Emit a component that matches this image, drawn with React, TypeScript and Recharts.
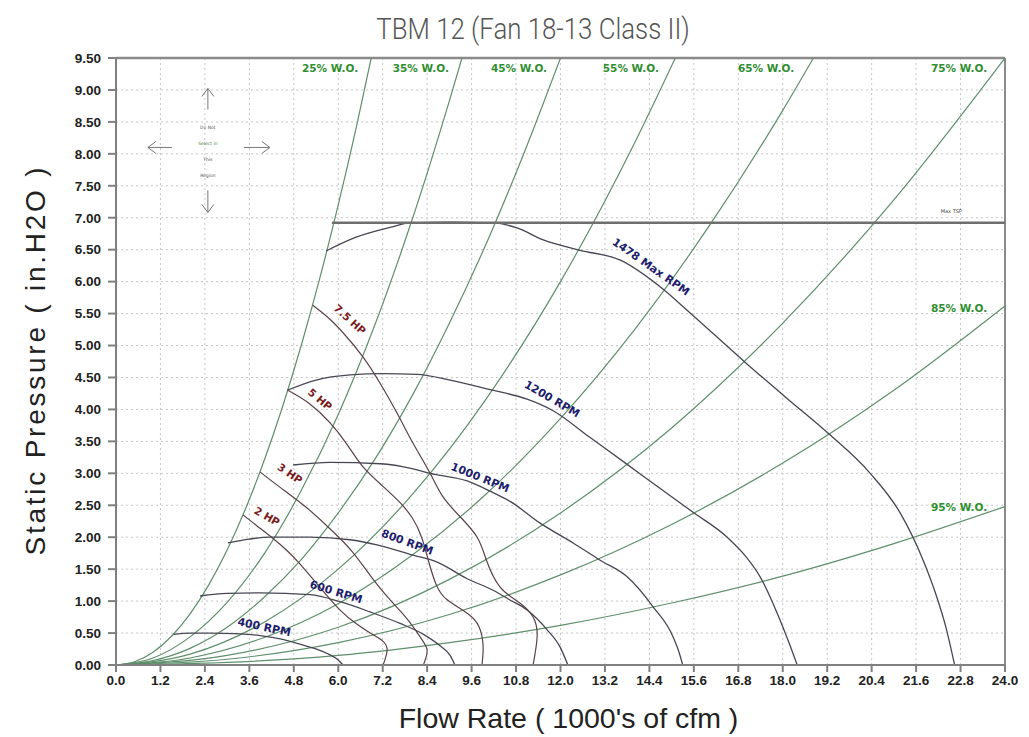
import {
    LineChart,
    Line,
    XAxis,
    YAxis,
    CartesianGrid,
    ReferenceDot,
    ReferenceLine
} from "recharts";

// axis ticks
const xTicks = [0, 1.2, 2.4, 3.6, 4.8, 6.0, 7.2, 8.4, 9.6, 10.8, 12.0, 13.2, 14.4, 15.6, 16.8, 18.0, 19.2, 20.4, 21.6, 22.8, 24.0];
const yTicks = [0, 0.5, 1, 1.5, 2, 2.5, 3, 3.5, 4, 4.5, 5, 5.5, 6, 6.5, 7, 7.5, 8, 8.5, 9, 9.5];

// system curves (% wide open), [flow, pressure]
const wo25 = [[0, 0], [0.5, 0.05], [1, 0.2], [1.5, 0.45], [2, 0.8], [2.5, 1.25], [3, 1.8], [3.5, 2.45], [4, 3.2], [4.5, 4.05], [5, 5.0], [5.5, 6.05], [6, 7.2], [6.5, 8.45], [6.89, 9.5]];
const wo35 = [[0, 0], [1, 0.11], [2, 0.44], [3, 0.98], [4, 1.74], [5, 2.73], [6, 3.92], [7, 5.34], [8, 6.98], [9, 8.83], [9.34, 9.5]];
const wo45 = [[0, 0], [1, 0.07], [2, 0.26], [3, 0.59], [4, 1.06], [5, 1.65], [6, 2.38], [7, 3.23], [8, 4.22], [9, 5.35], [10, 6.6], [11, 7.99], [12, 9.5]];
const wo55 = [[0, 0], [2, 0.17], [4, 0.67], [6, 1.5], [8, 2.67], [10, 4.17], [12, 6.0], [14, 8.17], [15.1, 9.5]];
const wo65 = [[0, 0], [2, 0.11], [4, 0.43], [6, 0.96], [8, 1.72], [10, 2.68], [12, 3.86], [14, 5.25], [16, 6.86], [18, 8.68], [18.83, 9.5]];
const wo75 = [[0, 0], [3, 0.15], [6, 0.59], [9, 1.34], [12, 2.38], [15, 3.71], [18, 5.35], [21, 7.28], [24, 9.5]];
const wo85 = [[0, 0], [3, 0.09], [6, 0.35], [9, 0.79], [12, 1.41], [15, 2.2], [18, 3.16], [21, 4.3], [24, 5.62]];
const wo95 = [[0, 0], [3, 0.04], [6, 0.15], [9, 0.35], [12, 0.62], [15, 0.97], [18, 1.39], [21, 1.9], [24, 2.48]];

// fan curves by speed
const rpm400 = [[1.55, 0.48], [2.0, 0.5], [2.54, 0.5], [3.2, 0.49], [3.89, 0.46], [4.5, 0.4], [5.05, 0.31], [5.45, 0.24], [5.7, 0.18], [5.95, 0.1], [6.13, 0]];
const rpm600 = [[2.27, 1.08], [3.0, 1.12], [3.89, 1.13], [5.24, 1.1], [6.05, 0.99], [6.86, 0.83], [7.67, 0.65], [8.3, 0.48], [8.75, 0.3], [9.02, 0.15], [9.15, 0]];
const rpm800 = [[3.02, 1.91], [3.6, 1.97], [4.16, 2.0], [5.24, 2.0], [6.32, 1.96], [7.05, 1.88], [8.02, 1.72], [8.67, 1.61], [9.48, 1.35], [10.18, 1.17], [10.6, 1.03], [11.1, 0.86], [11.64, 0.55], [11.99, 0.28], [12.2, 0]];
const rpm1000 = [[4.78, 3.13], [5.78, 3.17], [7.13, 3.15], [8.02, 3.07], [8.48, 3.0], [9.48, 2.88], [10.1, 2.72], [10.64, 2.56], [11.45, 2.22], [12.34, 1.91], [13.07, 1.64], [13.8, 1.38], [14.5, 0.91], [15.04, 0.44], [15.2, 0.2], [15.3, 0]];
const rpm1200 = [[4.62, 4.3], [5.4, 4.46], [6.32, 4.54], [7.2, 4.56], [8.13, 4.55], [9.02, 4.46], [10.1, 4.31], [11.1, 4.16], [11.8, 3.98], [12.8, 3.56], [13.8, 3.14], [14.6, 2.8], [15.58, 2.39], [16.5, 2.0], [17.0, 1.7], [17.39, 1.38], [17.85, 0.81], [18.2, 0.3], [18.39, 0]];
const rpm1478 = [[5.67, 6.48], [6.5, 6.7], [7.4, 6.85], [7.94, 6.92], [9.0, 6.93], [10.18, 6.92], [10.83, 6.84], [11.5, 6.66], [12.53, 6.49], [13.6, 6.34], [14.69, 5.92], [15.5, 5.51], [16.98, 4.74], [18.1, 4.18], [19.22, 3.63], [20.36, 3.0], [21.17, 2.38], [21.79, 1.64], [22.12, 1.13], [22.4, 0.6], [22.64, 0]];

// brake horsepower curves
const hp2 = [[3.43, 2.35], [3.8, 2.18], [4.24, 1.98], [4.6, 1.8], [4.97, 1.58], [5.5, 1.22], [6.05, 0.86], [6.5, 0.64], [6.86, 0.5], [7.21, 0.37], [7.32, 0.23], [7.26, 0.08], [7.21, 0]];
const hp3 = [[3.89, 3.02], [4.43, 2.78], [5.15, 2.46], [5.78, 2.13], [6.37, 1.78], [6.89, 1.38], [7.4, 1.02], [7.89, 0.7], [8.21, 0.44], [8.39, 0.26], [8.37, 0.12], [8.3, 0]];
const hp5 = [[4.64, 4.3], [5.2, 4.1], [5.78, 3.79], [6.24, 3.45], [6.67, 3.1], [7.2, 2.8], [7.67, 2.54], [8.0, 2.3], [8.25, 2.0], [8.45, 1.6], [8.65, 1.25], [8.94, 1.02], [9.48, 0.81], [9.8, 0.6], [9.91, 0.3], [9.88, 0]];
const hp75 = [[5.31, 5.63], [5.7, 5.45], [6.13, 5.2], [6.67, 4.82], [7.13, 4.41], [7.59, 3.94], [8.02, 3.47], [8.48, 3.0], [8.83, 2.63], [9.29, 2.32], [9.75, 2.0], [10.0, 1.64], [10.37, 1.22], [10.9, 0.97], [11.26, 0.75], [11.37, 0.45], [11.26, 0]];

// max static pressure line
const maxTsp = [[5.83, 6.92], [24, 6.92]];

const woCurves = [wo25, wo35, wo45, wo55, wo65, wo75, wo85, wo95];
const rpmCurves = [rpm400, rpm600, rpm800, rpm1000, rpm1200, rpm1478];
const hpCurves = [hp2, hp3, hp5, hp75];

// annotations: text, anchor (flow, pressure), angle
const woLabels = [
    { text: "25% W.O.", x: 5.78, y: 9.34 },
    { text: "35% W.O.", x: 8.23, y: 9.34 },
    { text: "45% W.O.", x: 10.88, y: 9.34 },
    { text: "55% W.O.", x: 13.9, y: 9.34 },
    { text: "65% W.O.", x: 17.55, y: 9.34 },
    { text: "75% W.O.", x: 22.76, y: 9.34 },
    { text: "85% W.O.", x: 22.76, y: 5.59 },
    { text: "95% W.O.", x: 22.76, y: 2.47 }
];
const rpmLabels = [
    { text: "1478 Max RPM", x: 14.44, y: 6.23, angle: 35 },
    { text: "1200 RPM", x: 11.77, y: 4.16, angle: 30 },
    { text: "1000 RPM", x: 9.83, y: 2.93, angle: 22 },
    { text: "800 RPM", x: 7.86, y: 1.92, angle: 20 },
    { text: "600 RPM", x: 5.94, y: 1.14, angle: 17 },
    { text: "400 RPM", x: 4.0, y: 0.59, angle: 12 }
];
const hpLabels = [
    { text: "7.5 HP", x: 6.32, y: 5.41, angle: 42 },
    { text: "5 HP", x: 5.51, y: 4.16, angle: 40 },
    { text: "3 HP", x: 4.7, y: 3.0, angle: 35 },
    { text: "2 HP", x: 4.08, y: 2.33, angle: 30 }
];

const toPts = (a: number[][]) => a.map(([x, y]) => ({ x, y }));

const FONT = "'DejaVu Sans', sans-serif";
const ARIAL = "'Liberation Sans', Arial, sans-serif";

const rotText = (text: string, angle: number, color: string, size: number) => (p: any) => (
    <text
        x={p.cx} y={p.cy}
        transform={`rotate(${angle} ${p.cx} ${p.cy})`}
        textAnchor="middle" dominantBaseline="central"
        fill={color} fontSize={size} fontWeight={700} fontFamily={FONT}
    >
        {text}
    </text>
);

// "do not select in this region" marker
const regionMark = (p: any) => {
    const { cx, cy } = p;
    const c = "#777";
    return (
        <g stroke={c} strokeWidth={1} fill="none">
            <line x1={cx} y1={cy - 59} x2={cx} y2={cy - 38} />
            <polyline points={`${cx - 6},${cy - 51} ${cx},${cy - 59} ${cx + 6},${cy - 51}`} />
            <line x1={cx} y1={cy + 43} x2={cx} y2={cy + 65} />
            <polyline points={`${cx - 6},${cy + 57} ${cx},${cy + 65} ${cx + 6},${cy + 57}`} />
            <line x1={cx - 60} y1={cy} x2={cx - 36} y2={cy} />
            <polyline points={`${cx - 52},${cy - 6} ${cx - 60},${cy} ${cx - 52},${cy + 6}`} />
            <line x1={cx + 36} y1={cy} x2={cx + 62} y2={cy} />
            <polyline points={`${cx + 54},${cy - 6} ${cx + 62},${cy} ${cx + 54},${cy + 6}`} />
            <g stroke="none" fill="#555" fontSize={4.5} fontFamily={FONT} textAnchor="middle">
                <text x={cx} y={cy - 18}>Do Not</text>
                <text x={cx} y={cy - 2} fill="#4a7a4a">Select in</text>
                <text x={cx} y={cy + 14}>This</text>
                <text x={cx} y={cy + 30}>Region</text>
            </g>
        </g>
    );
};

const smallText = (text: string) => (p: any) => (
    <text x={p.cx} y={p.cy} textAnchor="middle" fontSize={5} fill="#444" fontFamily={FONT}>{text}</text>
);

export default function App() {
    const tickStyle = { fill: "#222", fontSize: 13.5, fontWeight: 700, fontFamily: ARIAL };
    return (
        <div style={{ position: "absolute", left: 0, top: 0, width: 1029, height: 737, background: "#fff" }}>
            <div style={{
                position: "absolute", left: 0, top: 12, width: 1066, textAlign: "center",
                fontFamily: "Roboto, sans-serif", fontWeight: 300, fontSize: 29, color: "#555",
                transform: "scaleX(0.89)", transformOrigin: "533px 0", lineHeight: "34px"
            }}>
                TBM 12 (Fan 18-13 Class II)
            </div>
            <LineChart width={1029} height={737} margin={{ top: 58, right: 24, bottom: 0, left: 0 }}>
                <CartesianGrid stroke="#c6c6c6" strokeDasharray="2 3" />
                <XAxis
                    type="number" dataKey="x" domain={[0, 24]} ticks={xTicks} interval={0}
                    allowDataOverflow height={72} tickSize={7} tickMargin={3}
                    stroke="#808080" strokeWidth={2}
                    tickFormatter={(v: number) => v.toFixed(1)} tick={tickStyle}
                    label={{
                        content: (p: any) => {
                            const vb = p.viewBox;
                            return (
                                <text x={vb.x + vb.width / 2 + 8} y={vb.y + vb.height - 9} textAnchor="middle"
                                    fontSize={28.5} fill="#222" fontFamily={ARIAL}>
                                    Flow Rate ( 1000's of cfm )
                                </text>
                            );
                        }
                    }}
                />
                <YAxis
                    type="number" domain={[0, 9.5]} ticks={yTicks} interval={0}
                    allowDataOverflow width={116} tickSize={8} tickMargin={7}
                    stroke="#808080" strokeWidth={2}
                    tickFormatter={(v: number) => v.toFixed(2)} tick={tickStyle}
                    label={{
                        content: (p: any) => {
                            const vb = p.viewBox;
                            const cy = vb.y + vb.height / 2;
                            return (
                                <text x={45} y={cy} transform={`rotate(-90 45 ${cy})`} textAnchor="middle"
                                    fontSize={28} fill="#222" fontFamily={ARIAL}
                                    textLength={388} lengthAdjust="spacing">
                                    Static Pressure ( in.H2O )
                                </text>
                            );
                        }
                    }}
                />
                <ReferenceLine y={9.5} stroke="#8a8a8a" strokeWidth={2.5} />
                <ReferenceLine x={24} stroke="#8a8a8a" strokeWidth={2} />

                {woCurves.map((c, i) => (
                    <Line key={"wo" + i} data={toPts(c)} dataKey="y" type="monotone" dot={false}
                        stroke="#5f8f6c" strokeWidth={1.2} isAnimationActive={false} />
                ))}
                {rpmCurves.map((c, i) => (
                    <Line key={"rpm" + i} data={toPts(c)} dataKey="y" type="monotone" dot={false}
                        stroke="#474753" strokeWidth={1.3} isAnimationActive={false} />
                ))}
                {hpCurves.map((c, i) => (
                    <Line key={"hp" + i} data={toPts(c)} dataKey="y" type="natural" dot={false}
                        stroke="#5a4146" strokeWidth={1.2} isAnimationActive={false} />
                ))}
                <Line data={toPts(maxTsp)} dataKey="y" type="linear" dot={false}
                    stroke="#6e6e6e" strokeWidth={2.5} isAnimationActive={false} />

                {woLabels.map((l) => (
                    <ReferenceDot key={l.text} x={l.x} y={l.y} r={0}
                        shape={rotText(l.text, 0, "#2f8f2f", 10.5)} />
                ))}
                {rpmLabels.map((l) => (
                    <ReferenceDot key={l.text} x={l.x} y={l.y} r={0}
                        shape={rotText(l.text, l.angle, "#1e1e6e", 11)} />
                ))}
                {hpLabels.map((l) => (
                    <ReferenceDot key={l.text} x={l.x} y={l.y} r={0}
                        shape={rotText(l.text, l.angle, "#7c1b1b", 10.5)} />
                ))}
                <ReferenceDot x={2.48} y={8.1} r={0} shape={regionMark} />
                <ReferenceDot x={22.55} y={7.08} r={0} shape={smallText("Max TSP")} />
            </LineChart>
        </div>
    );
}
